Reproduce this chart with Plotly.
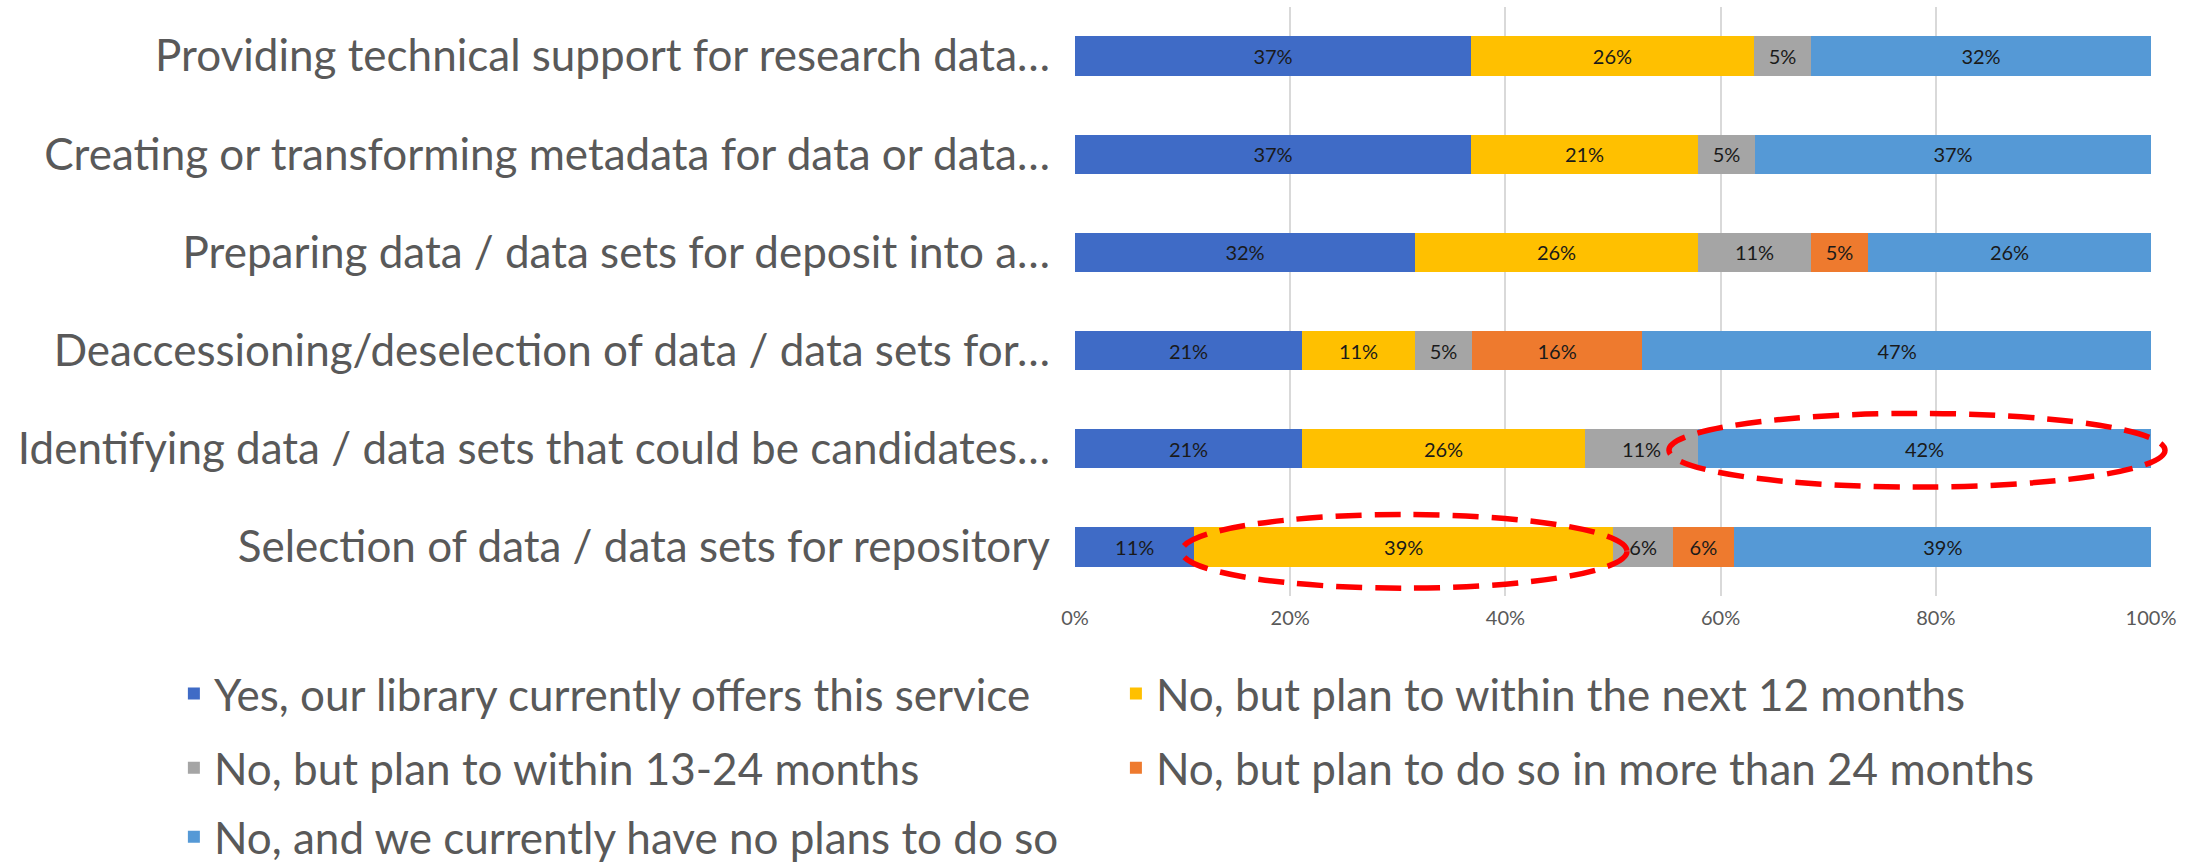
import plotly.graph_objects as go

categories = [
    "Providing technical support for research data…",
    "Creating or transforming metadata for data or data…",
    "Preparing data / data sets for deposit into a…",
    "Deaccessioning/deselection of data / data sets for…",
    "Identifying data / data sets that could be candidates…",
    "Selection of data / data sets for repository",
]

series_names = [
    "Yes, our library currently offers this service",
    "No, but plan to within the next 12 months",
    "No, but plan to within 13-24 months",
    "No, but plan to do so in more than 24 months",
    "No, and we currently have no plans to do so",
]

yes_now = [36.8, 36.8, 31.6, 21.1, 21.1, 11.1]
next_12 = [26.3, 21.1, 26.3, 10.5, 26.3, 38.9]
within_13_24 = [5.3, 5.3, 10.5, 5.3, 10.5, 5.6]
more_24 = [None, None, 5.3, 15.8, None, 5.6]
no_plans = [31.6, 36.8, 26.3, 47.4, 42.1, 38.9]

series_values = [yes_now, next_12, within_13_24, more_24, no_plans]
colors = ["#3F6BC6", "#FFC000", "#A5A5A5", "#EE7A2E", "#5599D6"]

x_ticks = [0, 20, 40, 60, 80, 100]
x_tick_labels = ["0%", "20%", "40%", "60%", "80%", "100%"]

FONT = "Lato"
GREY = "#595959"

fig = go.Figure()
legend_ids = ["legend", "legend2", "legend3", "legend4", "legend5"]
for name, vals, col, lg in zip(series_names, series_values, colors, legend_ids):
    fig.add_trace(go.Bar(
        y=categories, x=vals, name=name, orientation="h",
        marker=dict(color=col, line=dict(width=0)),
        texttemplate="%{x:.0f}%",
        textposition="inside", insidetextanchor="middle", textangle=0,
        textfont=dict(family=FONT, size=20, color="#1a1a1a"),
        legend=lg, showlegend=True,
    ))

# legend layout: 2 columns, 3 rows (placed in container coordinates)
legend_pos = [(0.079, 0.197), (0.507, 0.197), (0.079, 0.111), (0.507, 0.111), (0.079, 0.031)]
legend_layout = {}
for lg, (lx, ly) in zip(legend_ids, legend_pos):
    legend_layout[lg] = dict(
        x=lx, y=ly, xref="container", yref="container",
        xanchor="left", yanchor="middle", orientation="h",
        bgcolor="rgba(0,0,0,0)", borderwidth=0,
        font=dict(family=FONT, size=44, color=GREY),
        itemwidth=30,
    )

fig.update_layout(
    barmode="stack",
    bargap=0.6,
    width=2201, height=864, autosize=False,
    margin=dict(l=1075, r=50, t=7, b=268, autoexpand=False),
    paper_bgcolor="white", plot_bgcolor="white",
    font=dict(family=FONT, color=GREY),
    xaxis=dict(
        range=[0, 100], tickvals=x_ticks, ticktext=x_tick_labels,
        showgrid=True, gridcolor="#D9D9D9", gridwidth=2,
        zeroline=False, showline=False, ticks="", ticklabelstandoff=8,
        tickfont=dict(family=FONT, size=20, color=GREY),
        fixedrange=True,
    ),
    yaxis=dict(
        autorange="reversed", showgrid=False, zeroline=False, showline=False,
        ticks="", ticklabelstandoff=24,
        tickfont=dict(family=FONT, size=44, color=GREY),
    ),
    **legend_layout,
)

# highlighted ellipses (red dashed)
ellipse_line = dict(color="#FF0000", width=5.5, dash="26px,13px")
fig.add_shape(type="circle", xref="x domain", yref="y",
              x0=0.552, x1=1.013, y0=4 - 0.36, y1=4 + 0.39,
              line=ellipse_line, layer="above")
fig.add_shape(type="circle", xref="x domain", yref="y",
              x0=0.099, x1=0.513, y0=5 - 0.33, y1=5 + 0.42,
              line=ellipse_line, layer="above")

fig.write_html("out.html", config={"displayModeBar": False},
               post_script="document.body.style.margin='0';")
